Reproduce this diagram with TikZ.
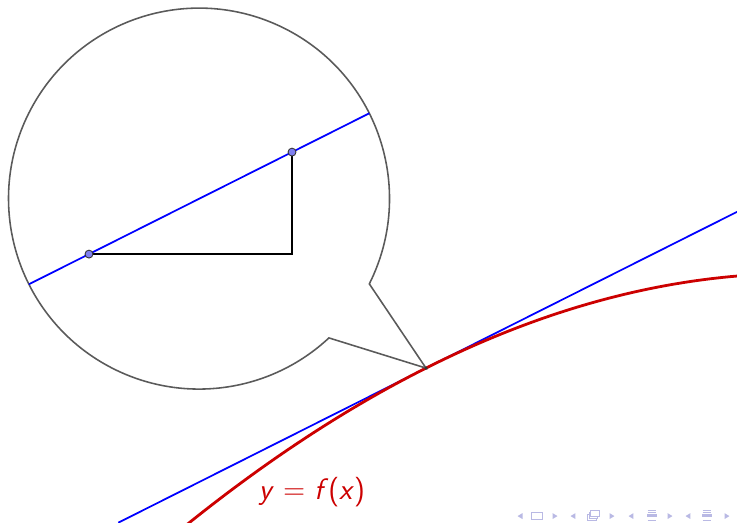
\documentclass[tikz,border=0pt]{standalone}
\usepackage{tikz}
\usetikzlibrary{calc}
\definecolor{tanblue}{RGB}{0,0,255}
\definecolor{curvered}{RGB}{204,0,0}
\definecolor{zoomgray}{RGB}{90,90,90}
\definecolor{dotblue}{RGB}{128,128,240}
\definecolor{navcol}{RGB}{185,185,228}

\begin{document}
\begin{tikzpicture}[
  tanline/.style={draw=tanblue,line width=1pt},
  curveline/.style={draw=curvered,line width=1.6pt},
  zoomline/.style={draw=zoomgray,line width=0.9pt,line join=miter},
  legline/.style={draw=black,line width=1pt},
  ptdot/.style={circle,fill=dotblue,draw=black!80,line width=0.5pt,inner sep=0pt,minimum size=0.16cm},
  navtri/.style={fill=navcol},
  navbox/.style={draw=navcol,line width=0.6pt},
]
  % Frame of the slide
  \useasboundingbox (0,0) rectangle (14.85,10.52);
  \clip (0,0) rectangle (14.85,10.52);

  % Point of tangency and zoom circle
  \coordinate (tip) at (8.583,3.103);
  \coordinate (c) at (4.010,6.518);
  \def\rr{3.838}
  \coordinate (za) at ($(c)+(-26.6:\rr)$);

  % Tangent line and curve
  \draw[tanline] (tip) -- ++(-6.2,-3.115) (tip) -- ++(6.4,3.215);
  \draw[curveline] plot[domain=-4.9:6.3,samples=60]
    ({8.583+\x},{3.103+0.5024*\x-0.03218*\x*\x-0.000127*\x*\x*\x});
  \node[font=\sffamily\fontsize{17}{20}\selectfont,text=curvered] (lbl) at (6.287,0.604)
    {\textit{y} $=$ \textit{f}(\textit{x})};

  % Zoom callout
  \draw[zoomline] (tip) -- (za) arc[start angle=-26.6,end angle=313,radius=\rr] -- cycle;
  \fill[black!80] (tip) circle (0.035);

  % Inside the zoom: secant with rise and run
  \coordinate (p) at (1.793,5.400);
  \coordinate (q) at (5.884,7.455);
  \coordinate (r) at (5.884,5.400);
  \begin{scope}
    \clip (c) circle (\rr);
    \draw[tanline] ($(p)!-1.5!(q)$) -- ($(p)!2.5!(q)$);
  \end{scope}
  \draw[legline] (p) -- (r) -- (q);
  \node[ptdot] (pdot) at (p) {};
  \node[ptdot] (qdot) at (q) {};

  % Navigation symbols
  \foreach \xl/\xr in {10.478/11.183,11.545/12.331,12.714/13.500,13.862/14.648}{
    \fill[navtri] (\xl-0.05,0.121) -- (\xl+0.05,0.181) -- (\xl+0.05,0.061) -- cycle;
    \fill[navtri] (\xr+0.05,0.121) -- (\xr-0.05,0.181) -- (\xr-0.05,0.061) -- cycle;
  }
  \draw[navbox] (10.71,0.05) rectangle (10.93,0.20);
  \draw[navbox,fill=white] (11.84,0.04) rectangle (12.01,0.15);
  \draw[navbox,fill=white] (11.87,0.08) rectangle (12.04,0.19);
  \draw[navbox,fill=white] (11.90,0.12) rectangle (12.07,0.23);
  \foreach \xm in {13.137,14.245}{
    \fill[navcol] (\xm-0.11,0.10) rectangle (\xm+0.11,0.16);
    \foreach \yy in {0.04,0.20,0.24}
      \draw[navbox] (\xm-0.09,\yy) -- (\xm+0.09,\yy);
  }
\end{tikzpicture}
\end{document}
